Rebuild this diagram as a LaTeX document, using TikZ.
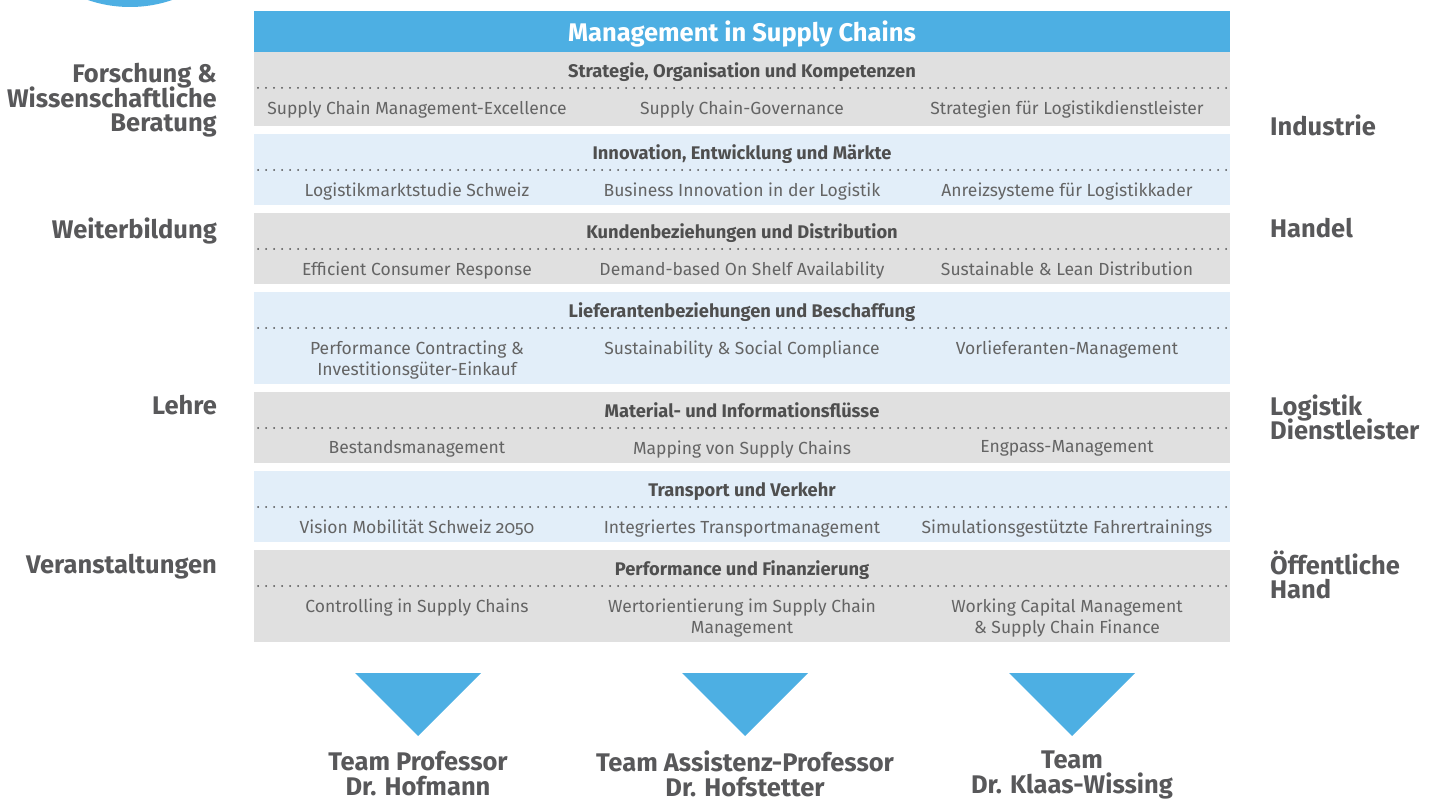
\documentclass[tikz,border=0pt]{standalone}
\usepackage{fontspec}
\setmainfont{Fira Sans}
\newfontfamily\oldnums[Numbers=OldStyle]{Fira Sans}
\usetikzlibrary{positioning}

\definecolor{scblue}{HTML}{4DAFE3}
\definecolor{rowgray}{HTML}{E0E0E0}
\definecolor{rowblue}{HTML}{E2EEF9}
\definecolor{headtext}{HTML}{4F4F4F}
\definecolor{itemtext}{HTML}{646464}
\definecolor{sidetext}{HTML}{58585A}

\tikzset{
  band/.style={minimum width=976pt, inner sep=0pt, anchor=north, draw=none},
  head/.style={font=\fontsize{18.3}{20}\selectfont\bfseries, text=headtext, inner sep=0pt, anchor=base},
  item/.style={font=\fontsize{17.5}{21.5}\selectfont, text=itemtext, align=center, anchor=north, inner sep=0pt},
  side/.style={font=\fontsize{25.5}{24.5}\selectfont\bfseries, text=sidetext, inner sep=0pt,
               execute at begin node={\lineskiplimit=-20pt\rule{0pt}{19pt}}},
  dotline/.style={line width=2pt, dash pattern=on 0pt off 8pt, line cap=round, draw=headtext},
  team/.style={side, align=center, anchor=north},
  tri/.style={fill=scblue},
}

\begin{document}
\begin{tikzpicture}[x=1pt, y=-1pt]
    \useasboundingbox (0,0) rectangle (1435,799);

    % blue disc cut by the top edge
    \begin{scope}
        \clip (0,0) rectangle (1435,799);
        \fill[scblue] (130,-123) circle (130);
    \end{scope}

    % title bar
    \node[band, fill=scblue, minimum height=41pt] (title) at (742,11) {};
    \node[font=\fontsize{25.5}{28}\selectfont\bfseries, text=white, inner sep=0pt, anchor=base] (titletext) at (742,42) {Management in Supply Chains};

    % field bands with their dotted rule
    \foreach \k/\ytop/\hh/\fillc in {1/52/74/rowgray, 2/134/71/rowblue, 3/213/71/rowgray,
                                    4/292/92/rowblue, 5/392/71/rowgray, 6/471/71/rowblue, 7/550/92/rowgray} {
        \node[band, fill=\fillc, minimum height=\hh pt] (row\k) at (742,\ytop) {};
        \coordinate (dl\k) at (258,\ytop+36);
        \coordinate (dr\k) at (1228,\ytop+36);
        \draw[dotline] (dl\k) -- (dr\k);
    }

    % field headers
    \foreach \k/\headtxt in {1/{Strategie, Organisation und Kompetenzen},
                             2/{Innovation, Entwicklung und Märkte},
                             3/{Kundenbeziehungen und Distribution},
                             4/{Lieferantenbeziehungen und Beschaffung},
                             5/{Material- und Informationsflüsse},
                             6/{Transport und Verkehr},
                             7/{Performance und Finanzierung}} {
        \node[head] (head\k) at ([yshift=-25.5pt]row\k.north) {\headtxt};
    }

    % topics, three per field
    \foreach \k/\ia/\ib/\ic in {1/{Supply Chain Management-Excellence}/{Supply Chain-Governance}/{Strategien für Logistikdienstleister},
                                2/{Logistikmarktstudie Schweiz}/{Business Innovation in der Logistik}/{Anreizsysteme für Logistikkader},
                                3/{Efficient Consumer Response}/{Demand-based On Shelf Availability}/{Sustainable \& Lean Distribution},
                                4/{Performance Contracting \&\\Investitionsgüter-Einkauf}/{Sustainability \& Social Compliance}/{Vorlieferanten-Management},
                                5/{Bestandsmanagement}/{Mapping von Supply Chains}/{Engpass-Management},
                                6/{Vision Mobilität Schweiz {\oldnums 2050}}/{Integriertes Transportmanagement}/{Simulationsgestützte Fahrertrainings},
                                7/{Controlling in Supply Chains}/{Wertorientierung im Supply Chain\\Management}/{Working Capital Management\\\& Supply Chain Finance}} {
        \node[item] (a\k) at ([xshift=-325pt, yshift=-48.5pt]row\k.north) {\ia};
        \node[item] (b\k) at ([yshift=-48.5pt]row\k.north) {\ib};
        \node[item] (c\k) at ([xshift=325pt, yshift=-48.5pt]row\k.north) {\ic};
    }

    % target groups, left
    \node[side, align=right, anchor=north east] (forschung) at (217,63) {Forschung \&\\Wissenschaftliche\\Beratung};
    \node[side, anchor=north east] (weiterbildung) at (217,217.5) {Weiterbildung};
    \node[side, anchor=north east] (lehre) at (217,395) {Lehre};
    \node[side, anchor=north east] (veranstaltungen) at (217,554) {Veranstaltungen};

    % target groups, right
    \node[side, anchor=north west] (industrie) at (1270,114.5) {Industrie};
    \node[side, anchor=north west] (handel) at (1270,218) {Handel};
    \node[side, align=left, anchor=north west] (logistik) at (1270,394.5) {Logistik\\Dienstleister};
    \node[side, align=left, anchor=north west] (hand) at (1270,550.5) {Öffentliche\\Hand};

    % teams
    \foreach \xc/\tname/\ttxt in {418/hofmann/{Team Professor\\Dr. Hofmann},
                              745/hofstetter/{Team Assistenz-Professor\\Dr. Hofstetter},
                              1072/wissing/{Team\\Dr. Klaas-Wissing}} {
        \fill[tri] (\xc-63,673) -- (\xc+63,673) -- (\xc,736) -- cycle;
        \node[team] (\tname) at (\xc,751) {\ttxt};
    }
\end{tikzpicture}
\end{document}
